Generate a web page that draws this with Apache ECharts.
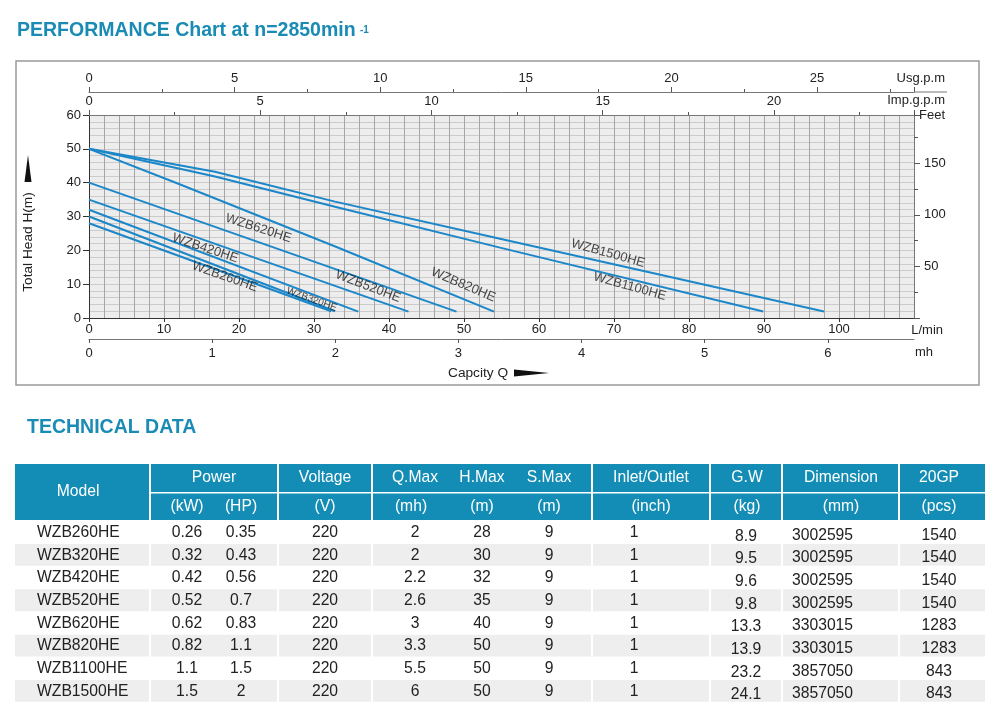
<!DOCTYPE html>
<html><head><meta charset="utf-8">
<script src="https://cdn.jsdelivr.net/npm/echarts@6/dist/echarts.min.js"></script>
<style>html,body{margin:0;padding:0;background:#fff}#c{width:1000px;height:718px}</style>
</head><body><div id="c"></div>
<script>
// ================= DATA =================
// Performance curves: [Q (L/min), H (m)]
const curveWZB260HE  = [[0, 28], [32.3, 2]];
const curveWZB320HE  = [[0, 30], [32.8, 2]];
const curveWZB420HE  = [[0, 32], [35.9, 1.9]];
const curveWZB520HE  = [[0, 35], [42.6, 1.9]];
const curveWZB620HE  = [[0, 40], [49, 1.9]];
const curveWZB820HE  = [[0, 50], [12, 39.6], [33, 21], [54, 1.9]];
const curveWZB1100HE = [[0, 50], [16.8, 41.8], [32.8, 32.9], [54.8, 20.8], [89.9, 1.9]];
const curveWZB1500HE = [[0, 50], [16.8, 43.2], [32.8, 34.4], [54.8, 23.4], [98, 1.9]];

// Curve name labels: [text, Q, H, angle]
const curveLabelAnchors = [
  ['WZB620HE', 22.6, 26.5, -18],
  ['WZB420HE', 15.5, 20.6, -18.5],
  ['WZB260HE', 18.1, 12.2, -19.5],
  ['WZB320HE', 29.7, 5.5, -20],
  ['WZB520HE', 37.2, 9.3, -21],
  ['WZB820HE', 49.9, 9.8, -23],
  ['WZB1500HE', 69.2, 19.1, -15.5],
  ['WZB1100HE', 72.1, 9.3, -15.5]
];

// Technical data table
const models      = ['WZB260HE','WZB320HE','WZB420HE','WZB520HE','WZB620HE','WZB820HE','WZB1100HE','WZB1500HE'];
const powerKW     = ['0.26','0.32','0.42','0.52','0.62','0.82','1.1','1.5'];
const powerHP     = ['0.35','0.43','0.56','0.7','0.83','1.1','1.5','2'];
const voltage     = ['220','220','220','220','220','220','220','220'];
const qMax        = ['2','2','2.2','2.6','3','3.3','5.5','6'];
const hMax        = ['28','30','32','35','40','50','50','50'];
const sMax        = ['9','9','9','9','9','9','9','9'];
const inletOutlet = ['1','1','1','1','1','1','1','1'];
const grossWeight = ['8.9','9.5','9.6','9.8','13.3','13.9','23.2','24.1'];
const dimension   = ['3002595','3002595','3002595','3002595','3303015','3303015','3857050','3857050'];
const qty20GP     = ['1540','1540','1540','1540','1283','1283','843','843'];

// ================= LAYOUT / STYLE =================
const FONT = "'Liberation Sans', Arial, Helvetica, sans-serif";
const BLUE_TITLE = '#1a8bb4';
const HEAD_BG = '#138db5';
const LINE_BLUE = '#1b87c9';
const GRID = {left: 89, top: 115, width: 825, height: 203};

const chart = echarts.init(document.getElementById('c'), null, {renderer: 'canvas'});

function txt(text, x, y, opts) {
  opts = opts || {};
  return {
    type: 'text', x: x, y: y, rotation: opts.rotation || 0, z: opts.z || 10,
    style: {
      text: text, x: 0, y: 0,
      fill: opts.color || '#222',
      font: (opts.weight || 'normal') + ' ' + (opts.size || 13) + 'px ' + FONT,
      align: opts.align || 'left', textAlign: opts.align || 'left',
      verticalAlign: opts.va || 'middle', textVerticalAlign: opts.va || 'middle'
    }
  };
}
function rect(x, y, w, h, fill, stroke, lw) {
  return {type: 'rect', z: 1, shape: {x: x, y: y, width: w, height: h},
    style: {fill: fill || 'none', stroke: stroke || 'none', lineWidth: lw || 0}};
}

const graphics = [];
// Titles
graphics.push(txt('PERFORMANCE Chart at n=2850min', 17, 30.5, {size: 19.5, weight: 'bold', color: BLUE_TITLE}));
graphics.push(txt('-1', 360, 30, {size: 10, weight: 'bold', color: BLUE_TITLE}));
graphics.push(txt('TECHNICAL DATA', 27, 428, {size: 19.5, weight: 'bold', color: BLUE_TITLE}));
// Chart frame
graphics.push(rect(16, 61, 963, 324, 'none', '#9a9a9a', 1.5));
// Axis unit labels
graphics.push(txt('Usg.p.m', 945, 78, {align: 'right'}));
graphics.push(txt('Imp.g.p.m', 945, 100, {align: 'right'}));
graphics.push(txt('Feet', 945, 115, {align: 'right'}));
graphics.push(txt('L/min', 943, 330, {align: 'right'}));
graphics.push(txt('mh', 915, 352));
graphics.push({type: 'line', z: 5, shape: {x1: 914, y1: 92, x2: 947, y2: 92}, style: {stroke: '#777', lineWidth: 1}});
// Y title with arrow
graphics.push(txt('Total Head H(m)', 28, 242, {size: 13.7, align: 'center', rotation: Math.PI / 2}));
graphics.push({type: 'polygon', z: 10, shape: {points: [[28, 155], [24.5, 182], [31.5, 182]]}, style: {fill: '#111'}});
// X title with arrow
graphics.push(txt('Capcity Q', 448, 373, {size: 13.7}));
graphics.push({type: 'polygon', z: 10, shape: {points: [[514, 369.5], [514, 376.5], [549, 373]]}, style: {fill: '#111'}});

// ================= TABLE =================
const colRanges = [[15,149],[151,277],[279,371],[373,591],[593,709],[711,781],[783,898],[900,985]];
const HR1 = [464, 492], HR2 = [493.5, 520];
colRanges.forEach(function (c, i) {
  if (i === 0) {
    graphics.push(rect(c[0], HR1[0], c[1] - c[0], HR2[1] - HR1[0], HEAD_BG));
  } else {
    graphics.push(rect(c[0], HR1[0], c[1] - c[0], HR1[1] - HR1[0], HEAD_BG));
    graphics.push(rect(c[0], HR2[0], c[1] - c[0], HR2[1] - HR2[0], HEAD_BG));
  }
});
const headRow1 = [['Model', 78, 492], ['Power', 214, 478], ['Voltage', 325, 478], ['Q.Max', 415, 478], ['H.Max', 482, 478],
  ['S.Max', 549, 478], ['Inlet/Outlet', 651, 478], ['G.W', 747, 478], ['Dimension', 841, 478], ['20GP', 939, 478]];
const headRow2 = [['(kW)', 187], ['(HP)', 241], ['(V)', 325], ['(mh)', 411], ['(m)', 482], ['(m)', 549],
  ['(inch)', 651], ['(kg)', 747], ['(mm)', 841], ['(pcs)', 939]];
headRow1.forEach(function (h) { graphics.push(txt(h[0], h[1], h[2], {size: 15.7, color: '#fff', align: 'center'})); });
headRow2.forEach(function (h) { graphics.push(txt(h[0], h[1], 507, {size: 15.7, color: '#fff', align: 'center'})); });

const tableCols = [
  [models, 37, 'left', 0], [powerKW, 187, 'center', 0], [powerHP, 241, 'center', 0], [voltage, 325, 'center', 0],
  [qMax, 415, 'center', 0], [hMax, 482, 'center', 0], [sMax, 549, 'center', 0], [inletOutlet, 634, 'center', 0],
  [grossWeight, 746, 'center', 3.5], [dimension, 792, 'left', 2.5], [qty20GP, 939, 'center', 2.5]
];
const ROW_TOP = 521.3, ROW_H = 22.67;
models.forEach(function (m, k) {
  const top = ROW_TOP + k * ROW_H;
  if (k % 2 === 1) {
    colRanges.forEach(function (c) { graphics.push(rect(c[0], top, c[1] - c[0], ROW_H - 0.8, '#eeeeee')); });
  }
  tableCols.forEach(function (col) {
    graphics.push(txt(col[0][k], col[1], top + 11.4 + col[3], {size: 15.7, align: col[2], color: '#222'}));
  });
});

// ================= SERIES =================
const curves = [
  ['WZB260HE', curveWZB260HE], ['WZB320HE', curveWZB320HE], ['WZB420HE', curveWZB420HE], ['WZB520HE', curveWZB520HE],
  ['WZB620HE', curveWZB620HE], ['WZB820HE', curveWZB820HE], ['WZB1100HE', curveWZB1100HE], ['WZB1500HE', curveWZB1500HE]
];
const series = curves.map(function (c) {
  return {
    name: c[0], type: 'line', xAxisIndex: 0, yAxisIndex: 0, data: c[1],
    showSymbol: false, symbol: 'none', smooth: false, silent: true, z: 3,
    lineStyle: {color: LINE_BLUE, width: 2}
  };
});
series.push({
  name: 'labels', type: 'scatter', xAxisIndex: 0, yAxisIndex: 0, symbolSize: 0, silent: true, z: 4,
  data: curveLabelAnchors.map(function (a) {
    return {value: [a[1], a[2]], name: a[0],
      label: {show: true, formatter: a[0], rotate: a[3], position: 'inside',
        fontSize: a[0] === 'WZB320HE' ? 10 : 13, color: '#1a1a1a', fontFamily: FONT}};
  })
});

const axisLabelBase = {fontSize: 13, color: '#222', fontFamily: FONT};

chart.setOption({
  animation: false,
  backgroundColor: '#fff',
  textStyle: {fontFamily: FONT},
  grid: {left: GRID.left, top: GRID.top, width: GRID.width, height: GRID.height, show: true,
    backgroundColor: '#ededed', borderWidth: 0, containLabel: false},
  xAxis: [
    { // L/min
      type: 'value', position: 'bottom', min: 0, max: 110, interval: 10,
      axisLine: {show: true, onZero: false, lineStyle: {color: '#333', width: 1}},
      axisTick: {show: true, length: 4, lineStyle: {color: '#333'}},
      axisLabel: Object.assign({margin: 5, showMaxLabel: false}, axisLabelBase),
      splitLine: {show: true, lineStyle: {color: '#a6a6a6', width: 1}},
      minorTick: {show: false, splitNumber: 5},
      minorSplitLine: {show: true, lineStyle: {color: '#a6a6a6', width: 1}}
    },
    { // m3/h
      type: 'value', position: 'bottom', offset: 21, min: 0, max: 6.7, interval: 1,
      axisLine: {show: true, onZero: false, lineStyle: {color: '#777', width: 1}},
      axisTick: {show: true, length: 4, lineStyle: {color: '#555'}},
      axisLabel: Object.assign({margin: 8, showMaxLabel: false}, axisLabelBase),
      splitLine: {show: false}
    },
    { // Imp.g.p.m
      type: 'value', position: 'top', offset: 0, min: 0, max: 24.09, interval: 5,
      axisLine: {show: true, onZero: false, lineStyle: {color: '#777', width: 1}},
      axisTick: {show: true, length: 5, lineStyle: {color: '#555'}},
      minorTick: {show: true, splitNumber: 2, length: 3, lineStyle: {color: '#555'}},
      axisLabel: Object.assign({margin: 7, showMaxLabel: false}, axisLabelBase),
      splitLine: {show: false}
    },
    { // Usg.p.m
      type: 'value', position: 'top', offset: 23, min: 0, max: 28.33, interval: 5,
      axisLine: {show: true, onZero: false, lineStyle: {color: '#777', width: 1}},
      axisTick: {show: true, length: 5, lineStyle: {color: '#555'}},
      minorTick: {show: true, splitNumber: 2, length: 3, lineStyle: {color: '#555'}},
      axisLabel: Object.assign({margin: 7, showMaxLabel: false}, axisLabelBase),
      splitLine: {show: false}
    }
  ],
  yAxis: [
    { // Head m
      type: 'value', position: 'left', min: 0, max: 60, interval: 10,
      axisLine: {show: true, onZero: false, lineStyle: {color: '#333', width: 1}},
      axisTick: {show: true, length: 6, lineStyle: {color: '#333'}},
      axisLabel: Object.assign({margin: 8}, axisLabelBase),
      splitLine: {show: true, lineStyle: {color: '#cbcbcb', width: 1}},
      minorTick: {show: false, splitNumber: 5},
      minorSplitLine: {show: true, lineStyle: {color: '#cbcbcb', width: 1}}
    },
    { // Feet
      type: 'value', position: 'right', min: 0, max: 196.85, interval: 50,
      axisLine: {show: true, onZero: false, lineStyle: {color: '#777', width: 1}},
      axisTick: {show: true, length: 6, lineStyle: {color: '#555'}},
      minorTick: {show: true, splitNumber: 2, length: 4, lineStyle: {color: '#555'}},
      axisLabel: Object.assign({margin: 10, showMinLabel: false, showMaxLabel: false}, axisLabelBase),
      splitLine: {show: false}
    }
  ],
  series: series,
  graphic: {elements: graphics}
});
</script>
</body></html>
